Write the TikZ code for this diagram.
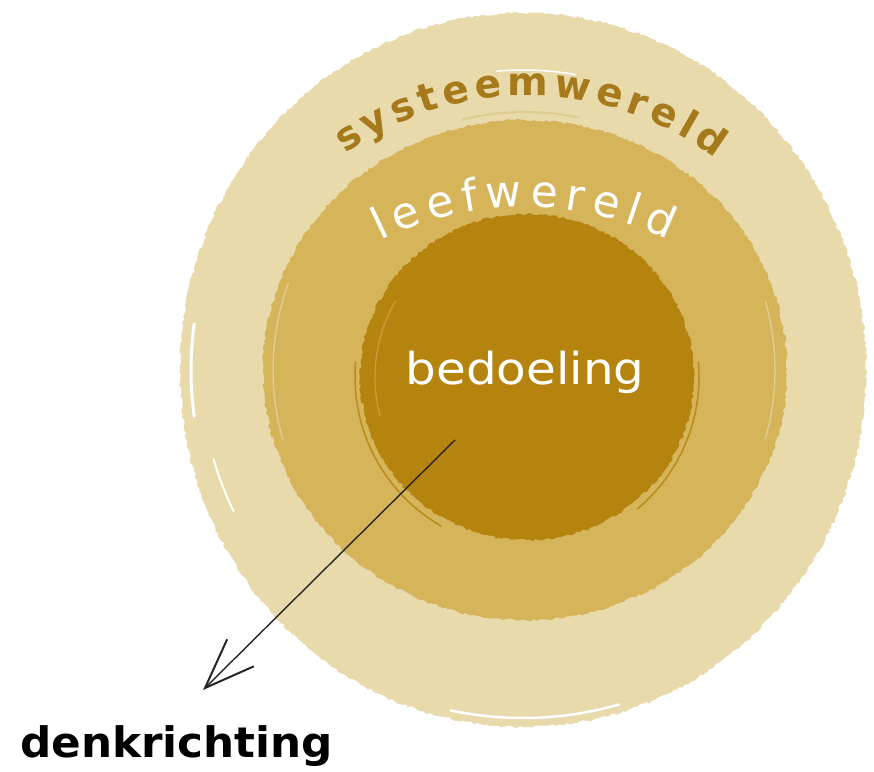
\documentclass[tikz,border=0pt]{standalone}
\usepackage{fontspec}
\setmainfont{DejaVu Sans}
\usetikzlibrary{decorations.text,decorations.pathmorphing,arrows.meta}
\definecolor{outerc}{RGB}{233,218,172}
\definecolor{midc}{RGB}{213,180,90}
\definecolor{innerc}{RGB}{180,132,14}
\definecolor{sysc}{RGB}{166,122,26}
\definecolor{streakmid}{RGB}{224,204,140}
\begin{document}
\begin{tikzpicture}[x=1pt,y=1pt,
  rough/.style={decorate,decoration={random steps,segment length=3pt,amplitude=1.3pt}},
  streak/.style={line width=#1,line cap=round},
  curvedtext/.style={decorate,decoration={text along path,text align={fit to path},#1}},
  label/.style={inner sep=0pt}]
\useasboundingbox (0,0) rectangle (874,771);
\fill[white] (0,0) rectangle (874,771);
% rings
\fill[outerc,rough] (523,401) ellipse [x radius=343, y radius=357];
\fill[midc,rough] (525,401) ellipse [x radius=262, y radius=250];
\fill[innerc,rough] (527,394) ellipse [x radius=167, y radius=163];
% brush streaks
\draw[white,streak=3pt] ([shift={(172:332)}]523,401) arc[start angle=172,end angle=188,radius=332];
\draw[white,streak=2pt] ([shift={(196:322)}]523,401) arc[start angle=196,end angle=206,radius=322];
\draw[white,streak=2.5pt] ([shift={(258:348)}]523,401) arc[start angle=258,end angle=286,radius=348];
\draw[white,streak=1.5pt] ([shift={(95:300)}]523,401) arc[start angle=95,end angle=80,radius=300];
\draw[streakmid,streak=2pt] ([shift={(104:258)}]525,401) arc[start angle=104,end angle=78,radius=258];
\draw[streakmid,streak=1.5pt] ([shift={(160:252)}]525,401) arc[start angle=160,end angle=196,radius=252];
\draw[streakmid,streak=1.5pt] ([shift={(-16:250)}]525,401) arc[start angle=-16,end angle=16,radius=250];
\draw[innerc!85!midc,streak=1.5pt] ([shift={(175:172)}]527,394) arc[start angle=175,end angle=240,radius=172];
\draw[innerc!85!midc,streak=1.5pt] ([shift={(5:172)}]527,394) arc[start angle=5,end angle=-50,radius=172];
\draw[midc!60!innerc,streak=1.2pt] ([shift={(150:152)}]527,394) arc[start angle=150,end angle=195,radius=152];
% curved labels
\path[curvedtext={text color=sysc,text={|\bfseries\fontsize{39}{46}\selectfont|systeemwereld}}]
  ([shift={(125.4:314)}]527,361) arc[start angle=125.4,end angle=53.2,radius=314];
\path[curvedtext={text color=white,text={|\fontsize{44}{50}\selectfont|leefwereld}}]
  ([shift={(116.3:327)}]525,237) arc[start angle=116.3,end angle=64.1,radius=327];
% center label
\node[label,anchor=base,text=white,font=\fontsize{44}{50}\selectfont] (bed) at (525,386) {\scalebox{1.1}[1]{bedoeling}};
% arrow
\coordinate (from) at (455,331);
\coordinate (tip) at (203,81);
\draw[black!85,line width=1.4pt,-{Straight Barb[length=50pt,width=38pt,line width=2pt]}] (from) -- (tip);
\node[label,anchor=base west,font=\bfseries\fontsize{42}{50}\selectfont] (denk) at (20,14) {\scalebox{1.04}[1]{denkrichting}};
\end{tikzpicture}
\end{document}
